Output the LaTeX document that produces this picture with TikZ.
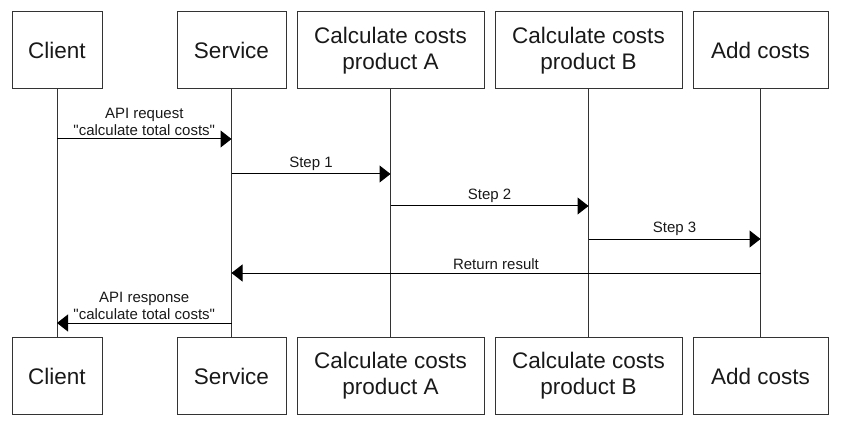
\documentclass[tikz,border=0pt]{standalone}
\usepackage{fontspec}
\setmainfont{Liberation Sans}
\usetikzlibrary{arrows.meta}
\usetikzlibrary{positioning}

\tikzset{
    box/.style={draw=black!80, line width=1pt, minimum height=77pt, align=center, inner sep=0pt, text=black!90, font=\fontsize{22.5}{26}\selectfont},
    lifeline/.style={draw=black!80, line width=1pt},
    msg/.style={line width=1pt, -{Triangle[length=11pt,width=17pt]}},
    lbl/.style={above, align=center, inner sep=3pt, text=black!90, font=\fontsize{15}{17}\selectfont}
}

\begin{document}
\begin{tikzpicture}[x=1pt,y=-1pt]
        \useasboundingbox (0,0) rectangle (842,430);

        \node[box, minimum width=90pt] (cli) at (57,50.5) {Client};
        \node[box, minimum width=109pt] (svc) at (231.5,50.5) {Service};
        \node[box, minimum width=187pt] (cca) at (390.5,50.5) {Calculate costs\\product A};
        \node[box, minimum width=187pt] (ccb) at (588.5,50.5) {Calculate costs\\product B};
        \node[box, minimum width=135pt] (add) at (760.5,50.5) {Add costs};

        \node[box, minimum width=90pt] (cliB) at (57,376) {Client};
        \node[box, minimum width=109pt] (svcB) at (231.5,376) {Service};
        \node[box, minimum width=187pt] (ccaB) at (390.5,376) {Calculate costs\\product A};
        \node[box, minimum width=187pt] (ccbB) at (588.5,376) {Calculate costs\\product B};
        \node[box, minimum width=135pt] (addB) at (760.5,376) {Add costs};

        \draw[lifeline] (cli) -- (cliB);
        \draw[lifeline] (svc) -- (svcB);
        \draw[lifeline] (cca) -- (ccaB);
        \draw[lifeline] (ccb) -- (ccbB);
        \draw[lifeline] (add) -- (addB);

        \draw[msg] (cli |- 0,139) -- node[lbl] {API request\\\textquotedbl calculate total costs\textquotedbl} (svc |- 0,139);
        \draw[msg] (svc |- 0,174) -- node[lbl] {Step 1} (cca |- 0,174);
        \draw[msg] (cca |- 0,206) -- node[lbl] {Step 2} (ccb |- 0,206);
        \draw[msg] (ccb |- 0,239) -- node[lbl] {Step 3} (add |- 0,239);
        \draw[msg] (add |- 0,273) -- node[lbl] {Return result} (svc |- 0,273);
        \draw[msg] (svc |- 0,323) -- node[lbl] {API response\\\textquotedbl calculate total costs\textquotedbl} (cli |- 0,323);
\end{tikzpicture}
\end{document}
